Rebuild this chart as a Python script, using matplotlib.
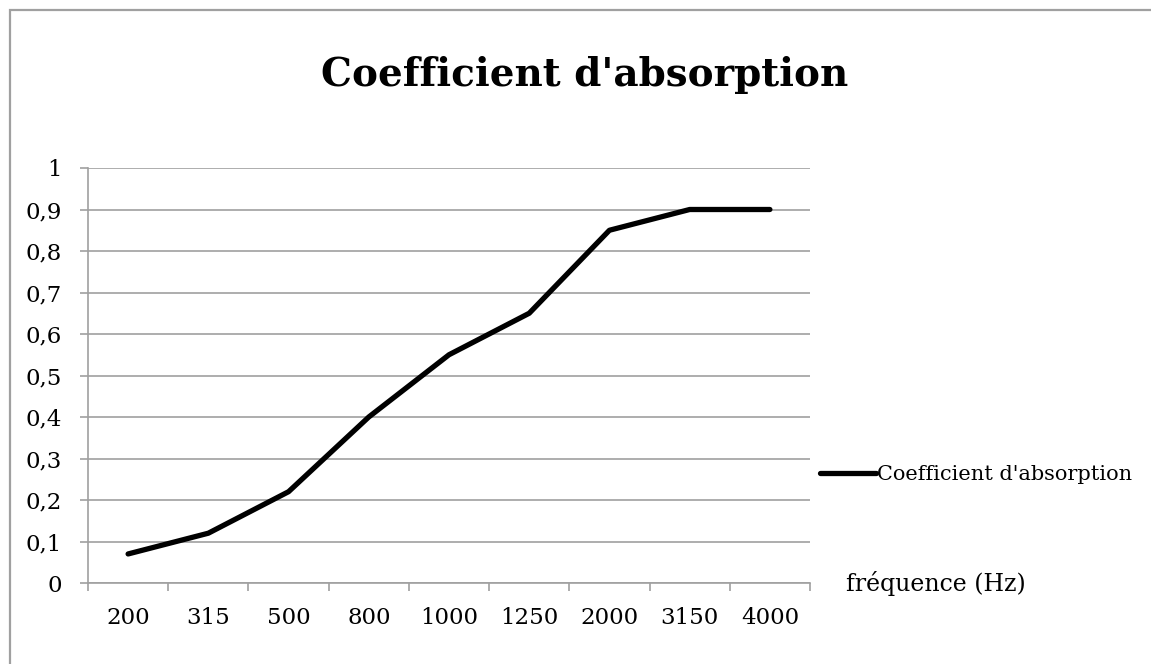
import matplotlib
matplotlib.use("Agg")
import matplotlib.pyplot as plt
from matplotlib.patches import Rectangle

categories = ["200", "315", "500", "800", "1000", "1250", "2000", "3150", "4000"]
values = [0.07, 0.12, 0.22, 0.40, 0.55, 0.65, 0.85, 0.90, 0.90]
y_ticks = [0, 0.1, 0.2, 0.3, 0.4, 0.5, 0.6, 0.7, 0.8, 0.9, 1.0]
y_labels = ["0", "0,1", "0,2", "0,3", "0,4", "0,5", "0,6", "0,7", "0,8", "0,9", "1"]
title = "Coefficient d'absorption"
series_name = "Coefficient d'absorption"
x_title = "fréquence (Hz)"

W, H = 1151, 664
plt.rcParams['font.family'] = ['DejaVu Serif']
fig = plt.figure(figsize=(W / 100, H / 100), dpi=100)

# outer border
fig.patches.append(Rectangle((10 / W, -0.1), 1.2, (H - 10) / H + 0.1, transform=fig.transFigure,
                             fill=False, edgecolor='#A0A0A0', linewidth=1.6))

ax = fig.add_axes([88 / W, 1 - 583 / H, (810 - 88) / W, (583 - 168) / H])
grid_c = '#A0A0A0'
x = list(range(len(categories)))
line, = ax.plot(x, values, color='black', linewidth=3.8, solid_capstyle='round',
                solid_joinstyle='round', label=series_name, zorder=3)
ax.set_xlim(-0.5, len(categories) - 0.5)
ax.set_ylim(0, 1)
ax.set_yticks(y_ticks)
ax.set_yticklabels(y_labels)
ax.set_xticks(x)
ax.set_xticklabels(categories)
ax.set_xticks([i - 0.5 for i in range(len(categories) + 1)], minor=True)
ax.tick_params(axis='x', which='major', length=0, pad=17, labelsize=16.5)
ax.tick_params(axis='x', which='minor', length=6, width=1.2, color=grid_c, direction='out')
ax.tick_params(axis='y', which='major', length=6, width=1.2, color=grid_c, pad=13, labelsize=16.5)
for s in ['top', 'right']:
    ax.spines[s].set_visible(False)
for s in ['left', 'bottom']:
    ax.spines[s].set_color(grid_c)
    ax.spines[s].set_linewidth(1.2)
ax.yaxis.grid(True, color=grid_c, linewidth=1.2)
ax.set_axisbelow(True)

fig.text(585 / W, 1 - 75 / H, title, ha='center', va='center', fontsize=28, fontweight='bold')
fig.text(846 / W, 1 - 583 / H, x_title, ha='left', va='center', fontsize=17)
fig.legend(handles=[line], loc='center left', bbox_to_anchor=(820 / W, 1 - 475 / H),
           frameon=False, fontsize=15, handlelength=2.7, handletextpad=0.05,
           borderaxespad=0, borderpad=0)

fig.savefig("out.png", dpi=100)
